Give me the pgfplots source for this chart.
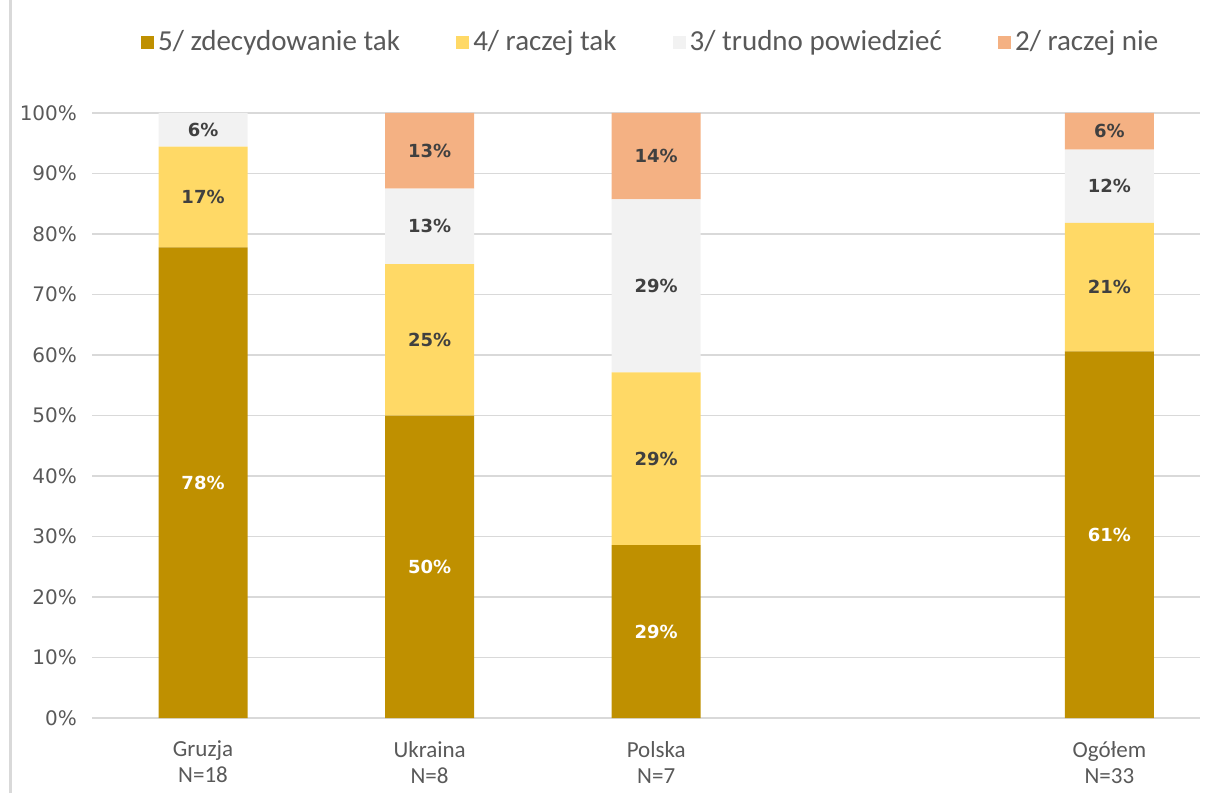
\documentclass[border=0pt]{standalone}
\usepackage{pgfplots}
\pgfplotsset{compat=1.18}
\usepackage{fontspec}
\setmainfont{Carlito}
\newfontfamily\dejavu{DejaVu Sans}
\definecolor{c5}{HTML}{BF9000}
\definecolor{c4}{HTML}{FFD966}
\definecolor{c3}{HTML}{F2F2F2}
\definecolor{c2}{HTML}{F4B183}
\definecolor{cgrid}{HTML}{D9D9D9}
\definecolor{ctxt}{HTML}{595959}
\definecolor{clab}{HTML}{404040}
\pgfplotsset{
  common/.style={
    at={(46pt,37.5pt)}, anchor=south west,
    scale only axis, width=554pt, height=302.5pt,
    xmin=-0.49, xmax=4.40, ymin=0, ymax=100,
  }
}
\begin{document}
\begin{tikzpicture}
\path[use as bounding box] (0,0) rectangle (604pt,396.5pt);
\draw[cgrid, line width=1.5pt] (5pt,0) -- (5pt,396.5pt);
\begin{axis}[common,
  ybar stacked, bar width=0.393,
  axis line style={draw=none},
  ymajorgrids, grid style={cgrid, line width=0.8pt},
  major tick length=0pt,
  ytick={0,10,...,100},
  /pgf/number format/assume math mode=true,
  yticklabel={\pgfmathprintnumber{\tick}\%},
  yticklabel style={font=\dejavu\fontsize{10}{12}\selectfont, text=ctxt, xshift=-4pt},
  xtick={0,1,2,4},
  xticklabels={{Gruzja\\N=18},{Ukraina\\N=8},{Polska\\N=7},{Ogółem\\N=33}},
  xticklabel style={align=center, font=\fontsize{11.5}{13}\selectfont, text=ctxt, yshift=-8pt},
  legend columns=4,
  legend style={draw=none, at={(0.505,1.117)}, anchor=center,
    font=\fontsize{14.5}{16}\selectfont, text=ctxt,
    /tikz/every even column/.append style={column sep=26pt}},
  legend image code/.code={\fill[#1] (0pt,-3.3pt) rectangle (6.6pt,3.3pt);},
]
\addplot[fill=c5, draw=none] coordinates {(0,77.78) (1,50) (2,28.57) (4,60.61)};
\addplot[fill=c4, draw=none] coordinates {(0,16.67) (1,25) (2,28.57) (4,21.21)};
\addplot[fill=c3, draw=none] coordinates {(0,5.56) (1,12.5) (2,28.57) (4,12.12)};
\addplot[fill=c2, draw=none] coordinates {(0,0) (1,12.5) (2,14.29) (4,6.06)};
\legend{5/ zdecydowanie tak,4/ raczej tak,3/ trudno powiedzieć,2/ raczej nie}
\end{axis}
\begin{axis}[common, hide axis,
  every node near coord/.style={anchor=center, font=\dejavu\bfseries\fontsize{9}{11}\selectfont}]
\addplot[draw=none, mark=none, nodes near coords, point meta=explicit symbolic,
  every node near coord/.append style={text=white}]
  coordinates {(0,38.89)[78\%] (1,25)[50\%] (2,14.29)[29\%] (4,30.3)[61\%]};
\addplot[draw=none, mark=none, nodes near coords, point meta=explicit symbolic,
  every node near coord/.append style={text=clab}]
  coordinates {(0,86.11)[17\%] (0,97.22)[6\%]
    (1,62.5)[25\%] (1,81.25)[13\%] (1,93.75)[13\%]
    (2,42.86)[29\%] (2,71.43)[29\%] (2,92.86)[14\%]
    (4,71.2)[21\%] (4,87.9)[12\%] (4,96.97)[6\%]};
\end{axis}
\end{tikzpicture}
\end{document}
